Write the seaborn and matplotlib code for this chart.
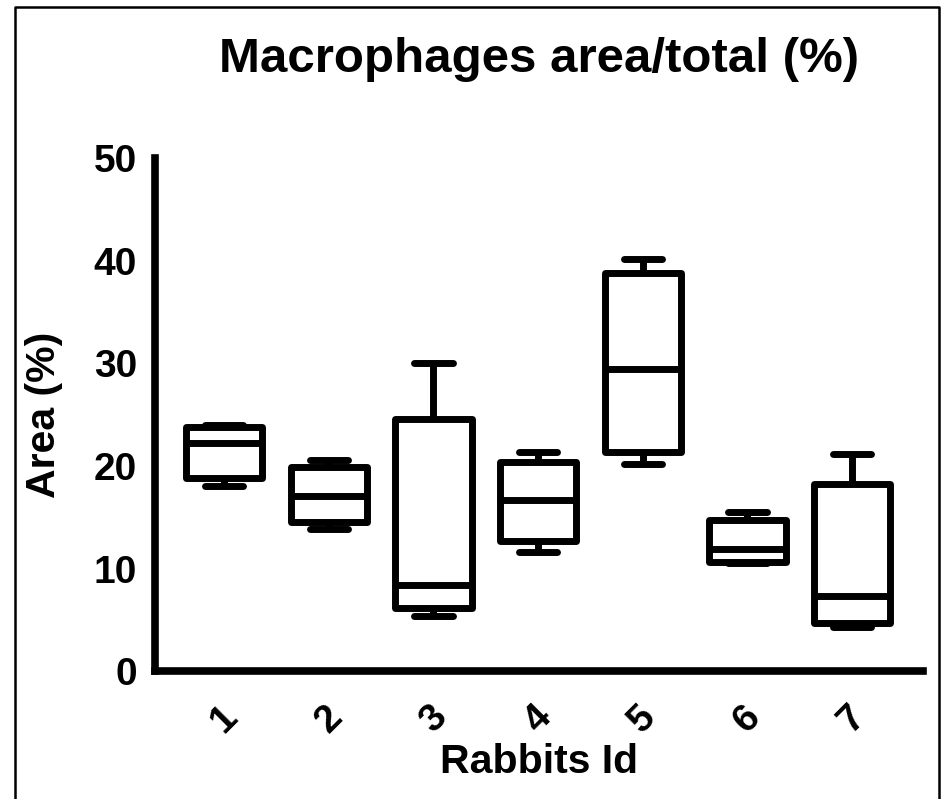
import numpy as np
import pandas as pd
import matplotlib
matplotlib.use("Agg")
import matplotlib.pyplot as plt
import seaborn as sns
from matplotlib.lines import Line2D

# summary per rabbit: min, q1, median, q3, max
rabbits = ["1", "2", "3", "4", "5", "6", "7"]
mins = [18.0, 13.9, 5.4, 11.6, 20.2, 10.5, 4.3]
q1s = [18.85, 14.55, 6.2, 12.7, 21.4, 10.65, 4.65]
medians = [22.2, 17.05, 8.4, 16.7, 29.5, 11.95, 7.35]
q3s = [23.8, 19.9, 24.6, 20.4, 38.8, 14.7, 18.2]
maxs = [24.0, 20.6, 30.0, 21.4, 40.2, 15.5, 21.15]

# five points per rabbit give exactly these quartiles (n=5, linear percentiles)
rows = []
for r, a, b, c, d, e in zip(rabbits, mins, q1s, medians, q3s, maxs):
    for v in (a, b, c, d, e):
        rows.append({"rabbit": r, "area": v})
df = pd.DataFrame(rows)

sns.set_style("white")
plt.rcParams["font.family"] = ["Liberation Sans", "DejaVu Sans"]
plt.rcParams["font.weight"] = "bold"
plt.rcParams["text.color"] = "black"
plt.rcParams["axes.labelcolor"] = "black"
plt.rcParams["xtick.color"] = "black"
plt.rcParams["ytick.color"] = "black"

fig = plt.figure(figsize=(9.45, 7.99), dpi=100)
ax = fig.add_axes([0.164, 0.160, 0.813, 0.642])

lw = 5
sns.boxplot(data=df, x="rabbit", y="area", order=rabbits, whis=(0, 100),
            width=0.73, color="white", linecolor="black", linewidth=lw,
            fill=True, ax=ax,
            boxprops=dict(joinstyle="round"),
            capprops=dict(solid_capstyle="round"),
            whiskerprops=dict(solid_capstyle="butt"),
            medianprops=dict(solid_capstyle="butt"))

ax.set_ylim(0, 50)
ax.set_xlim(-0.66, 6.68)
ax.set_yticks([0, 10, 20, 30, 40, 50])
sns.despine(ax=ax)
for s in ("left", "bottom"):
    ax.spines[s].set_linewidth(5.5)
    ax.spines[s].set_color("black")
ax.tick_params(axis="both", length=10, width=5.5, color="black",
               labelcolor="black", labelsize=28, pad=3, direction="out")
ax.tick_params(axis="x", pad=10)
for lab in ax.get_xticklabels():
    lab.set_rotation(45)
    lab.set_ha("center")
    lab.set_fontweight("bold")
for lab in ax.get_yticklabels():
    lab.set_fontweight("bold")

ax.set_xlabel("Rabbits Id", fontsize=29.5, fontweight="bold", labelpad=2, color="black")
ax.set_ylabel("Area (%)", fontsize=29.5, fontweight="bold", labelpad=22, color="black")
ax.set_title("Macrophages area/total (%)", fontsize=35.5, fontweight="bold", pad=62,
             color="black")

# thin frame around the picture (open at the bottom)
fig.add_artist(Line2D([15 / 945, 15 / 945, 939 / 945, 939 / 945],
                      [0, 1 - 7 / 799, 1 - 7 / 799, 0],
                      transform=fig.transFigure, color="black", lw=1.8))

fig.savefig("out.png", dpi=100, facecolor="white")
